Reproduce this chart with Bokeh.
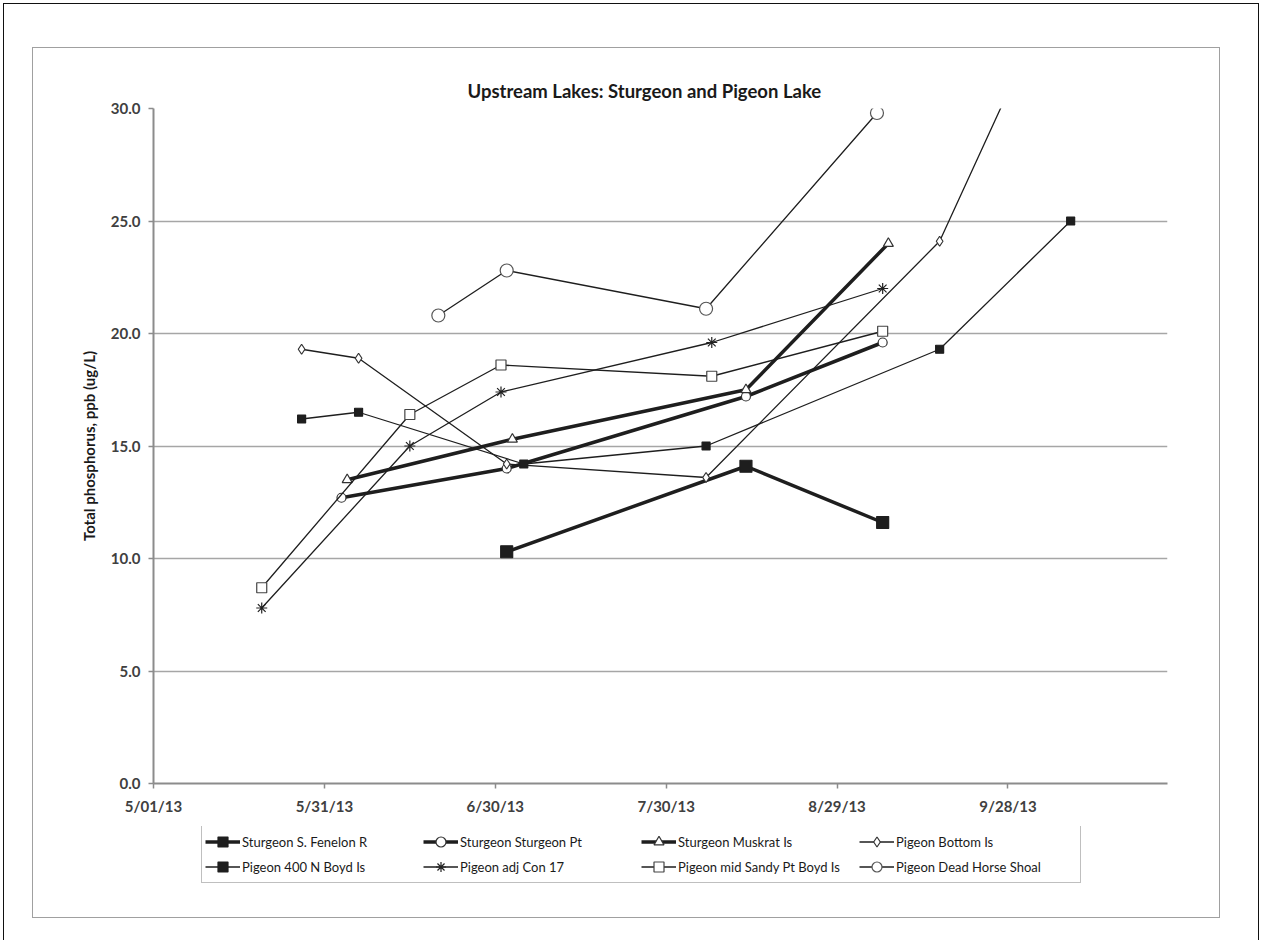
import pandas as pd
from bokeh.plotting import figure
from bokeh.layouts import column
from bokeh.models import Range1d, FixedTicker, Legend, LegendItem
from bokeh.embed import file_html
from bokeh.resources import INLINE

START = pd.Timestamp("2013-05-01")

# ---- axis ticks ----
x_tick_days = [0, 30, 60, 90, 120, 150]
x_tick_labels = ["5/01/13", "5/31/13", "6/30/13", "7/30/13", "8/29/13", "9/28/13"]
y_ticks = [0, 5, 10, 15, 20, 25, 30]
y_tick_labels = ["0.0", "5.0", "10.0", "15.0", "20.0", "25.0", "30.0"]

# ---- data (total phosphorus, ppb) ----
fenelon_dates = ["2013-07-02", "2013-08-13", "2013-09-06"]
fenelon_tp = [10.3, 14.1, 11.6]

sturgeon_pt_dates = ["2013-06-03", "2013-07-02", "2013-08-13", "2013-09-06"]
sturgeon_pt_tp = [12.7, 14.0, 17.2, 19.6]

muskrat_dates = ["2013-06-04", "2013-07-03", "2013-08-13", "2013-09-07"]
muskrat_tp = [13.5, 15.3, 17.5, 24.0]

bottom_dates = ["2013-05-27", "2013-06-06", "2013-07-02", "2013-08-06", "2013-09-16", "2013-10-09"]
bottom_tp = [19.3, 18.9, 14.2, 13.6, 24.1, 36.8]

boyd400_dates = ["2013-05-27", "2013-06-06", "2013-07-05", "2013-08-06", "2013-09-16", "2013-10-09"]
boyd400_tp = [16.2, 16.5, 14.2, 15.0, 19.3, 25.0]

con17_dates = ["2013-05-20", "2013-06-15", "2013-07-01", "2013-08-07", "2013-09-06"]
con17_tp = [7.8, 15.0, 17.4, 19.6, 22.0]

sandy_dates = ["2013-05-20", "2013-06-15", "2013-07-01", "2013-08-07", "2013-09-06"]
sandy_tp = [8.7, 16.4, 18.6, 18.1, 20.1]

deadhorse_dates = ["2013-06-20", "2013-07-02", "2013-08-06", "2013-09-05"]
deadhorse_tp = [20.8, 22.8, 21.1, 29.8]

series_names = [
    "Sturgeon S. Fenelon R", "Sturgeon Sturgeon Pt", "Sturgeon Muskrat Is", "Pigeon Bottom Is",
    "Pigeon 400 N Boyd Is", "Pigeon adj Con 17", "Pigeon mid Sandy Pt Boyd Is", "Pigeon Dead Horse Shoal",
]
series_data = [
    (fenelon_dates, fenelon_tp), (sturgeon_pt_dates, sturgeon_pt_tp), (muskrat_dates, muskrat_tp),
    (bottom_dates, bottom_tp), (boyd400_dates, boyd400_tp), (con17_dates, con17_tp),
    (sandy_dates, sandy_tp), (deadhorse_dates, deadhorse_tp),
]

# ---- styles ----
INK = "#1e1e1e"
styles = [
    dict(lw=3.5, marker="square", size=12, fill=INK, mline=INK),
    dict(lw=3.5, marker="circle", size=9, fill="white", mline="#333333"),
    dict(lw=3.5, marker="triangle", size=10, fill="white", mline="#333333"),
    dict(lw=1.3, marker="diamond", size=10, fill="white", mline="#333333"),
    dict(lw=1.3, marker="square", size=8, fill=INK, mline=INK),
    dict(lw=1.3, marker="asterisk", size=11, fill="white", mline="#222222"),
    dict(lw=1.3, marker="square", size=10, fill="white", mline="#444444"),
    dict(lw=1.3, marker="circle", size=13, fill="white", mline="#555555"),
]


def day_numbers(dates):
    return [(pd.Timestamp(d) - START).days for d in dates]


# ---------------- main chart ----------------
p = figure(
    width=1188, height=778, output_backend="svg", toolbar_location=None,
    x_range=Range1d(0, 178), y_range=Range1d(0, 30),
    min_border_left=120, min_border_right=52, min_border_top=60, min_border_bottom=43,
    background_fill_color="white", border_fill_color=None, outline_line_color=None,
)

p.title.text = "Upstream Lakes: Sturgeon and Pigeon Lake"
p.title.align = "left"
p.title.offset = 314
p.title.text_font = "Lato"
p.title.text_font_style = "bold"
p.title.text_font_size = "18.5px"
p.title.text_color = "#1a1a1a"
p.title.standoff = 14

p.xaxis.ticker = FixedTicker(ticks=x_tick_days)
p.xaxis.major_label_overrides = dict(zip(x_tick_days, x_tick_labels))
p.yaxis.ticker = FixedTicker(ticks=y_ticks)
p.yaxis.major_label_overrides = dict(zip(y_ticks, y_tick_labels))
p.yaxis.axis_label = "Total phosphorus, ppb (ug/L)"

for ax in (p.xaxis, p.yaxis):
    ax.axis_line_color = "#8c8c8c"
    ax.axis_line_width = 2
    ax.major_tick_line_color = "#8c8c8c"
    ax.major_tick_line_width = 1.5
    ax.major_tick_in = 0
    ax.major_tick_out = 5
    ax.minor_tick_line_color = None
    ax.major_label_text_font = "Lato"
    ax.major_label_text_font_style = "bold"
    ax.major_label_text_font_size = "15px"
    ax.major_label_text_color = "#404040"
    ax.major_label_standoff = 8

p.yaxis.axis_label_text_font = "Lato"
p.yaxis.axis_label_text_font_style = "bold"
p.yaxis.axis_label_text_font_size = "15px"
p.yaxis.axis_label_text_color = "#1a1a1a"
p.yaxis.axis_label_standoff = 10

p.xgrid.grid_line_color = None
p.ygrid.ticker = FixedTicker(ticks=y_ticks)
p.ygrid.grid_line_color = "#a6a6a6"
p.ygrid.grid_line_width = 1.5

for (dates, vals), st in zip(series_data, styles):
    days = day_numbers(dates)
    p.line(days, vals, line_color=INK, line_width=st["lw"])
    p.scatter(days, vals, marker=st["marker"], size=st["size"],
              fill_color=st["fill"], line_color=st["mline"], line_width=1.2)

# ---------------- legend strip (same series, drawn off-range so only the key shows) ----------------
lg = figure(
    width=1188, height=90, output_backend="svg", toolbar_location=None,
    x_range=Range1d(-10, -9), y_range=Range1d(-10, -9),
    x_axis_location=None, y_axis_location=None, min_border=0,
    background_fill_color=None, border_fill_color=None, outline_line_color=None,
)
lg.xgrid.grid_line_color = None
lg.ygrid.grid_line_color = None

items = []
for name, (dates, vals), st in zip(series_names, series_data, styles):
    days = day_numbers(dates)
    lr = lg.line(days, vals, line_color=INK, line_width=st["lw"])
    sr = lg.scatter(days, vals, marker=st["marker"], size=st["size"],
                    fill_color=st["fill"], line_color=st["mline"], line_width=1.2)
    items.append(LegendItem(label=name, renderers=[lr, sr]))

legend = Legend(
    items=items, location=(48, 33), orientation="horizontal", ncols=4,
    label_text_font="Lato", label_text_font_size="13px", label_text_color="#1a1a1a",
    glyph_width=35, glyph_height=25, label_height=25, label_width=181, label_standoff=2,
    spacing=0, padding=3, margin=0,
    border_line_color="#7f7f7f", border_line_width=1.5,
    background_fill_color="white", background_fill_alpha=1.0,
)
lg.add_layout(legend, "center")

chart_area = column(p, lg, width=1188, height=871, margin=(43, 0, 0, 28),
                    styles={"border": "1.5px solid #a0a0a0"})
page = column(chart_area, width=1256, height=1000, margin=(3, 0, 0, 3),
              styles={"border": "1.2px solid #111111"})

open("out.html", "w").write(file_html(page, INLINE))
